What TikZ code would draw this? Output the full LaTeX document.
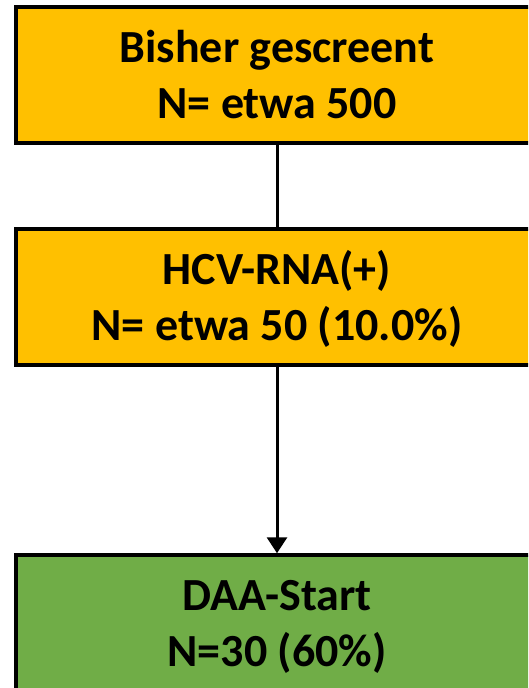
\documentclass[tikz,border=0pt]{standalone}
\usepackage{fontspec}
\setmainfont{Carlito}
\usetikzlibrary{arrows.meta}
\definecolor{boxorange}{HTML}{FFC000}
\definecolor{boxgreen}{HTML}{70AD47}
\begin{document}
\begin{tikzpicture}[x=1pt,y=-1pt,
  stage/.style={draw=black, line width=3.5pt, minimum width=522pt,
    minimum height=136pt, inner sep=0pt, align=center,
    font=\fontsize{46}{56}\selectfont\bfseries,
    text height=86pt, text depth=0pt},
  link/.style={line width=3pt}]
\useasboundingbox (0,0) rectangle (528,688);
\clip (0,0) rectangle (528,688);
\node[stage, fill=boxorange] (screen) at (277,75) {Bisher gescreent\\N= etwa 500};
\node[stage, fill=boxorange] (rna) at (277,297) {HCV-RNA(+)\\N= etwa 50 (10.0\%)};
\node[stage, fill=boxgreen] (daa) at (277,623) {DAA-Start\\N=30 (60\%)};
\draw[link] (screen.south) -- (rna.north);
\draw[link, -{Triangle[width=20pt,length=16pt]}] (rna.south) -- (daa.north);
\end{tikzpicture}
\end{document}
